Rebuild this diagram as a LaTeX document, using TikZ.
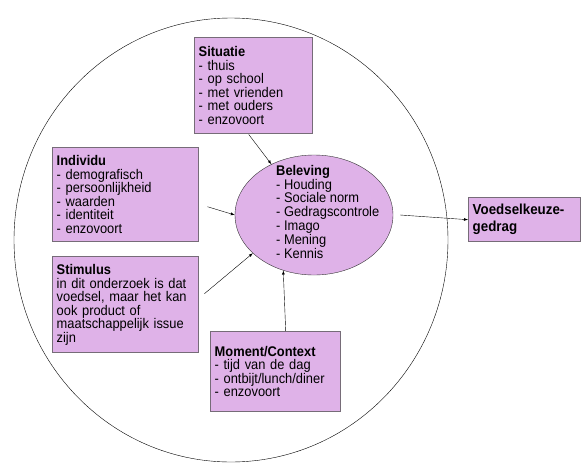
\documentclass[tikz,border=0pt]{standalone}
\usepackage{fontspec}
\setmainfont[FakeStretch=0.92]{Liberation Sans}
\usetikzlibrary{shapes,arrows,positioning,calc}
\definecolor{boxfill}{RGB}{223,178,232}
\definecolor{boxline}{RGB}{118,108,120}

\tikzset{
  box/.style={draw=boxline,line width=1.4pt,fill=boxfill,anchor=north west,align=left,inner sep=4pt,font=\fontsize{14}{13.5}\selectfont},
  arr/.style={-latex,thin}
}

\begin{document}
\begin{tikzpicture}[x=1pt,y=-1pt]
\useasboundingbox (0,0) rectangle (584,464);
% outer circle
\draw[thin] (231,240) ellipse [x radius=217,y radius=222];
% central ellipse
\node[ellipse,draw=black!80,thin,fill=boxfill,minimum width=158pt,minimum height=120pt] (beleving) at (314,215) {};
\node[anchor=north west,align=left,inner sep=0pt,font=\fontsize{14}{13.8}\selectfont] (belevingtxt) at (276,165) {\textbf{Beleving}\\- Houding\\- Sociale norm\\- Gedragscontrole\\- Imago\\- Mening\\- Kennis};
% boxes
\node[box,minimum width=118pt,minimum height=96pt,text width=110pt] (situatie) at (194,37) {\textbf{Situatie}\\- thuis\\- op school\\- met vrienden\\- met ouders\\- enzovoort};
\node[box,minimum width=146pt,minimum height=94pt,text width=138pt] (individu) at (52,147) {\textbf{Individu}\\- demografisch\\- persoonlijkheid\\- waarden\\- identiteit\\- enzovoort};
\node[box,minimum width=146pt,minimum height=96pt,text width=138pt] (stimulus) at (52,256) {\textbf{Stimulus}\\in dit onderzoek is dat\\voedsel, maar het kan\\ook product of\\maatschappelijk issue\\zijn};
\node[box,minimum width=130pt,minimum height=80pt,text width=122pt] (moment) at (210,331) {\textbf{Moment/Context}\\- tijd van de dag\\- ontbijt/lunch/diner\\- enzovoort};
\node[box,minimum width=112pt,minimum height=44pt,text width=104pt,font=\fontsize{14.5}{17}\selectfont\bfseries] (voedsel) at (468,197) {Voedselkeuze-\\gedrag};
% arrows
\draw[arr] ([xshift=-5pt]situatie.south) -- (beleving.130);
\draw[arr] ([shift={(8pt,-12pt)}]individu.east) -- (beleving.180);
\draw[arr] ([shift={(5pt,11pt)}]stimulus.east) -- (beleving.212);
\draw[arr] ([xshift=10pt]moment.north) -- (beleving.241);
\draw[arr] ([xshift=7pt]beleving.east) -- (voedsel.west);
\end{tikzpicture}
\end{document}
